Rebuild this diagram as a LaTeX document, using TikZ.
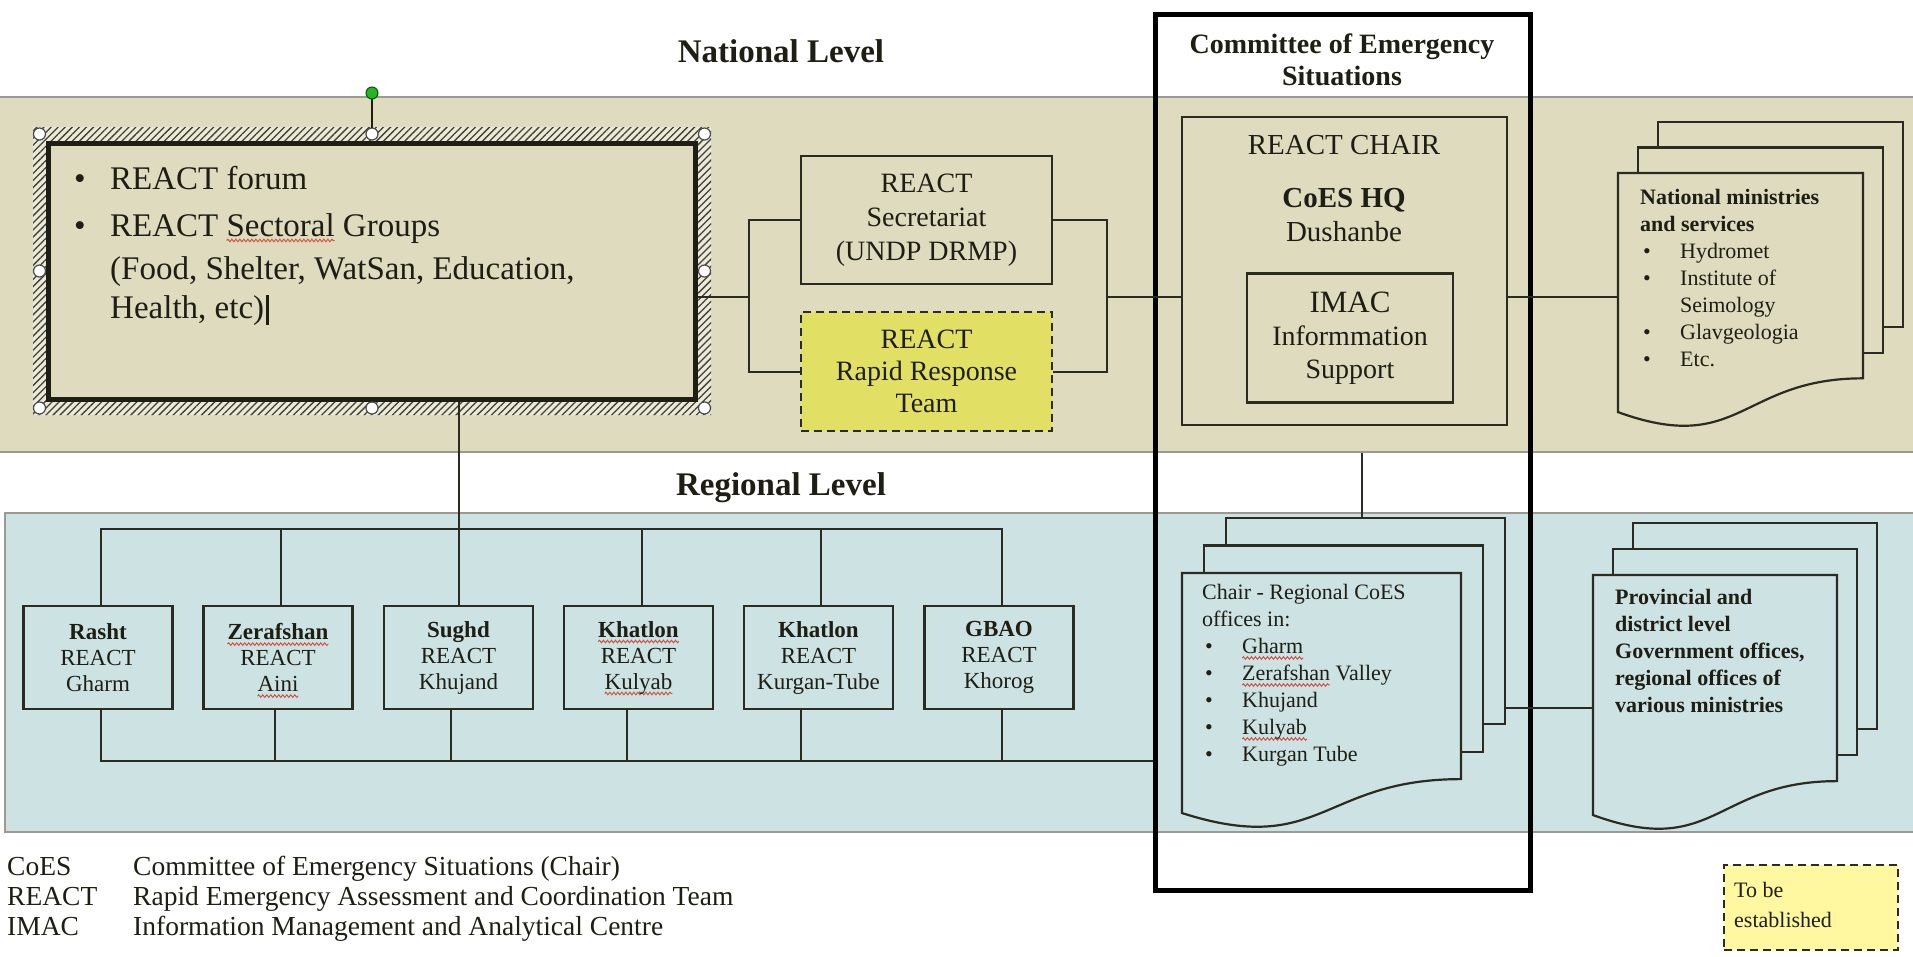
\documentclass[tikz,border=0pt]{standalone}
\usepackage{fontspec}
\setmainfont{Liberation Serif}
\newfontfamily\rmf{Liberation Serif}
\usetikzlibrary{patterns.meta,decorations.pathmorphing}
\definecolor{tanc}{HTML}{DEDBBE}
\definecolor{bluec}{HTML}{CCE2E3}
\definecolor{rryel}{HTML}{E2E064}
\definecolor{tobec}{HTML}{FFF8A0}
\definecolor{ink}{HTML}{1E1E14}
\definecolor{lnc}{HTML}{2B2B22}
\definecolor{bandline}{HTML}{9A9A92}
\definecolor{sqred}{HTML}{D04A3A}
\newlength\sqlen
\newcommand\sq[1]{\settowidth\sqlen{#1}\rlap{\tikz[overlay,baseline=0pt,x=1pt,y=1pt]\draw[sqred,line width=0.9pt,decorate,decoration={snake,amplitude=1.3pt,segment length=4pt}] (0pt,-4.5pt) -- (\sqlen,-4.5pt);}#1}
\newcommand\bl{\hspace*{3pt}\makebox[37pt][l]{\textbullet}}
\newcommand\mdoc[7]{%
 \path[docpage] (#2+2*#6,#3-2*#7) rectangle (#2+2*#6+#4,#3-2*#7+0.802*#5);
 \path[docpage] (#2+#6,#3-#7) rectangle (#2+#6+#4,#3-#7+0.802*#5);
 \path[docpage] (#2,#3) -- (#2+#4,#3) -- (#2+#4,#3+0.802*#5) .. controls (#2+0.5*#4,#3+0.802*#5) and (#2+0.5*#4,#3+1.1075*#5) .. (#2,#3+0.934*#5) -- cycle;
 \node[inner sep=0, minimum width=#4, minimum height=#5, anchor=north west] (#1) at (#2,#3) {};
 \node[inner sep=0, minimum width=#4, minimum height=0.802*#5, anchor=north west] (#1b) at (#2+2*#6,#3-2*#7) {};
}
\tikzset{
 box/.style={draw=lnc, line width=2.5pt, fill=tanc, inner sep=0, text=ink, align=center},
 conn/.style={draw=lnc, line width=2pt},
 title/.style={font=\rmf\fontsize{33}{36}\selectfont\bfseries, text=ink, inner sep=0},
 seltext/.style={font=\rmf\fontsize{33}{38}\selectfont, text=ink, inner sep=0},
 ctext/.style={font=\rmf\fontsize{29}{34}\selectfont, text=ink, inner sep=0},
 rbox/.style={box, fill=bluec, minimum width=149, minimum height=103, font=\rmf\fontsize{23}{26}\selectfont},
 doctext/.style={font=\rmf\fontsize{22}{27}\selectfont, text=ink, inner sep=0, align=left},
 legend/.style={font=\rmf\fontsize{27.5}{30}\selectfont, text=ink, inner sep=0},
 handle/.style={fill=white, draw=gray!60!black, line width=1.2pt},
}
\begin{document}
\begin{tikzpicture}[x=1pt,y=-1pt]
\useasboundingbox (0,0) rectangle (1913,956);
\fill[white] (0,0) rectangle (1913,956);
% bands
\fill[tanc] (-5,97) rectangle (1920,452);
\draw[bandline, line width=2pt] (-5,97) -- (1920,97) (-5,452) -- (1920,452);
\filldraw[fill=bluec, draw=bandline, line width=2pt] (5,513) rectangle (1925,832);
% titles
\node[title] (natl) at (781,51) {National Level};
\node[title] (regl) at (781,488) {Regional Level};
\node[font=\rmf\fontsize{28}{32}\selectfont\bfseries, text=ink, align=center, inner sep=0] (coest) at (1342,60) {Committee of Emergency\\Situations};
% selected text box
\fill[tanc!60!white, even odd rule] (33,127) rectangle (711,415) (46,141) rectangle (698,401);
\path[pattern={Lines[angle=45,distance=5pt,line width=1.3pt]}, pattern color=ink!85, even odd rule] (33,127) rectangle (711,415) (46,141) rectangle (698,401);
\node[draw=ink, line width=5pt, fill=tanc, minimum width=647, minimum height=256, inner sep=0] (sel) at (371.5,271) {};
\foreach \hx/\hy in {39.5/134,372/134,704.5/134,39.5/271,704.5/271,39.5/408,372/408,704.5/408}
  \draw[handle] (\hx,\hy) circle[radius=6pt];
\draw[ink, line width=1.5pt] (372,99) -- (372,128);
\filldraw[fill=green!65!black!85, draw=green!35!black, line width=1pt] (372,93) circle[radius=6pt];
\node[seltext, anchor=base] (b1) at (80,189) {\textbullet};
\node[seltext, anchor=base] (b2) at (80,236) {\textbullet};
\node[seltext, anchor=base west] (f1) at (110,189) {REACT forum};
\node[seltext, anchor=base west] (f2) at (110,236) {REACT \sq{Sectoral} Groups};
\node[seltext, anchor=base west] (f3) at (110,279) {(Food, Shelter, WatSan, Education,};
\node[seltext, anchor=base west] (f4) at (110,318) {Health, etc)};
\node[fill=ink, minimum width=3, minimum height=30, inner sep=0, anchor=south west] (cursor) at ([xshift=1pt,yshift=-7pt]f4.base east) {};
% secretariat and rapid response
\node[box, minimum width=251, minimum height=128, font=\rmf\fontsize{28}{34}\selectfont] (sec) at (926.5,220) {REACT\\Secretariat\\(UNDP DRMP)};
\node[box, fill=rryel, dash pattern=on 8pt off 5pt, minimum width=251, minimum height=119, font=\rmf\fontsize{28}{32}\selectfont] (rr) at (926.5,371.5) {REACT\\Rapid Response\\Team};
% chair
\node[box, minimum width=325, minimum height=308] (chair) at (1344.5,271) {};
\node[ctext] (rct) at (1344,145) {REACT CHAIR};
\node[ctext, font=\rmf\fontsize{29}{34}\selectfont\bfseries] (hq) at (1344,200) {CoES HQ};
\node[ctext] (dus) at (1344,232) {Dushanbe};
\node[box, minimum width=206, minimum height=129, font=\rmf\fontsize{28}{33}\selectfont] (imac) at (1350,338) {{\fontsize{31}{33}\selectfont IMAC}\\Informmation\\Support};
% national docs
\begin{scope}[docpage/.style={draw=lnc, line width=2.2pt, fill=tanc}]
\mdoc{natdoc}{1618}{173}{245}{256}{20}{25.5}
\end{scope}
\node[doctext, anchor=north west] (natt) at (1640,189) {\textbf{National ministries}\\\textbf{and services}\\\bl Hydromet\\\bl Institute of\\\hspace*{40pt}Seimology\\\bl Glavgeologia\\\bl Etc.};
% regional docs
\begin{scope}[docpage/.style={draw=lnc, line width=2.2pt, fill=bluec}]
\mdoc{cdoc}{1182}{573}{279}{257}{22}{27.5}
\mdoc{pdoc}{1593}{575}{244}{257}{20}{26}
\end{scope}
\node[doctext, anchor=north west] (cdt) at (1202,584) {Chair - Regional CoES\\offices in:\\\bl\sq{Gharm}\\\bl\sq{Zerafshan} Valley\\\bl Khujand\\\bl\sq{Kulyab}\\\bl Kurgan Tube};
\node[doctext, anchor=north west, font=\rmf\fontsize{22}{27}\selectfont\bfseries] (pdt) at (1615,589) {Provincial and\\district level\\Government offices,\\regional offices of\\various ministries};
% regional boxes
\node[rbox] (rasht) at (98,657.5) {\textbf{Rasht}\\REACT\\Gharm};
\node[rbox] (zer) at (278,657.5) {\textbf{\sq{Zerafshan}}\\REACT\\\sq{Aini}};
\node[rbox] (sughd) at (458.5,657.5) {\textbf{Sughd}\\REACT\\Khujand};
\node[rbox] (khk) at (638.5,657.5) {\textbf{\sq{Khatlon}}\\REACT\\\sq{Kulyab}};
\node[rbox] (kht) at (818.5,657.5) {\textbf{Khatlon}\\REACT\\Kurgan-Tube};
\node[rbox] (gbao) at (999,657.5) {\textbf{GBAO}\\REACT\\Khorog};
% committee frame
\node[draw=black, line width=5pt, minimum width=375, minimum height=876, inner sep=0] (cbox) at (1342.5,452) {};
% connectors
\coordinate (lb) at (749,297);
\coordinate (rb) at (1107,297);
\coordinate (tb) at (0,529);
\coordinate (bb) at (0,761);
\coordinate (cd) at (1362,453);
\coordinate (pl) at (0,708);
\draw[conn] (sec.west) -| (lb) |- (rr.west);
\draw[conn] (sel.east |- lb) -- (lb);
\draw[conn] (sec.east) -| (rb) |- (rr.east);
\draw[conn] (rb) -- (chair.west |- rb);
\draw[conn] (chair.east |- rb) -- (natdoc.west |- rb);
\draw[conn] (cd) -- (cdocb.north -| cd);
\draw[conn] (cdocb.east |- pl) -- (pdoc.west |- pl);
\draw[conn] ([xshift=3pt]rasht.north) -- ([xshift=3pt]rasht.north |- tb) -- ([xshift=3pt]gbao.north |- tb) -- ([xshift=3pt]gbao.north);
\foreach \n/\s in {zer/3,khk/3,kht/2}
  \draw[conn] ([xshift=\s pt]\n.north) -- ([xshift=\s pt]\n.north |- tb);
\draw[conn] (sel.south -| sughd.north) -- (sughd.north);
\draw[conn] ([xshift=3pt]rasht.south) -- ([xshift=3pt]rasht.south |- bb) -- (cbox.west |- bb);
\foreach \n/\s in {zer/-3,sughd/-8,khk/-12,kht/-18,gbao/3}
  \draw[conn] ([xshift=\s pt]\n.south) -- ([xshift=\s pt]\n.south |- bb);
% to be established
\node[draw=lnc, line width=2pt, dash pattern=on 8pt off 5pt, fill=tobec, minimum width=174, minimum height=85, inner sep=0, anchor=north west] (tobe) at (1723,864) {};
\node[doctext, anchor=north west, font=\rmf\fontsize{22}{30}\selectfont] (tobet) at (1734,882) {To be\\established};
% legend
\node[legend, anchor=base west] (l1a) at (7,875) {CoES};
\node[legend, anchor=base west] (l1b) at (133,875) {Committee of Emergency Situations (Chair)};
\node[legend, anchor=base west] (l2a) at (7,905) {REACT};
\node[legend, anchor=base west] (l2b) at (133,905) {Rapid Emergency Assessment and Coordination Team};
\node[legend, anchor=base west] (l3a) at (7,935) {IMAC};
\node[legend, anchor=base west] (l3b) at (133,935) {Information Management and Analytical Centre};
\end{tikzpicture}
\end{document}
